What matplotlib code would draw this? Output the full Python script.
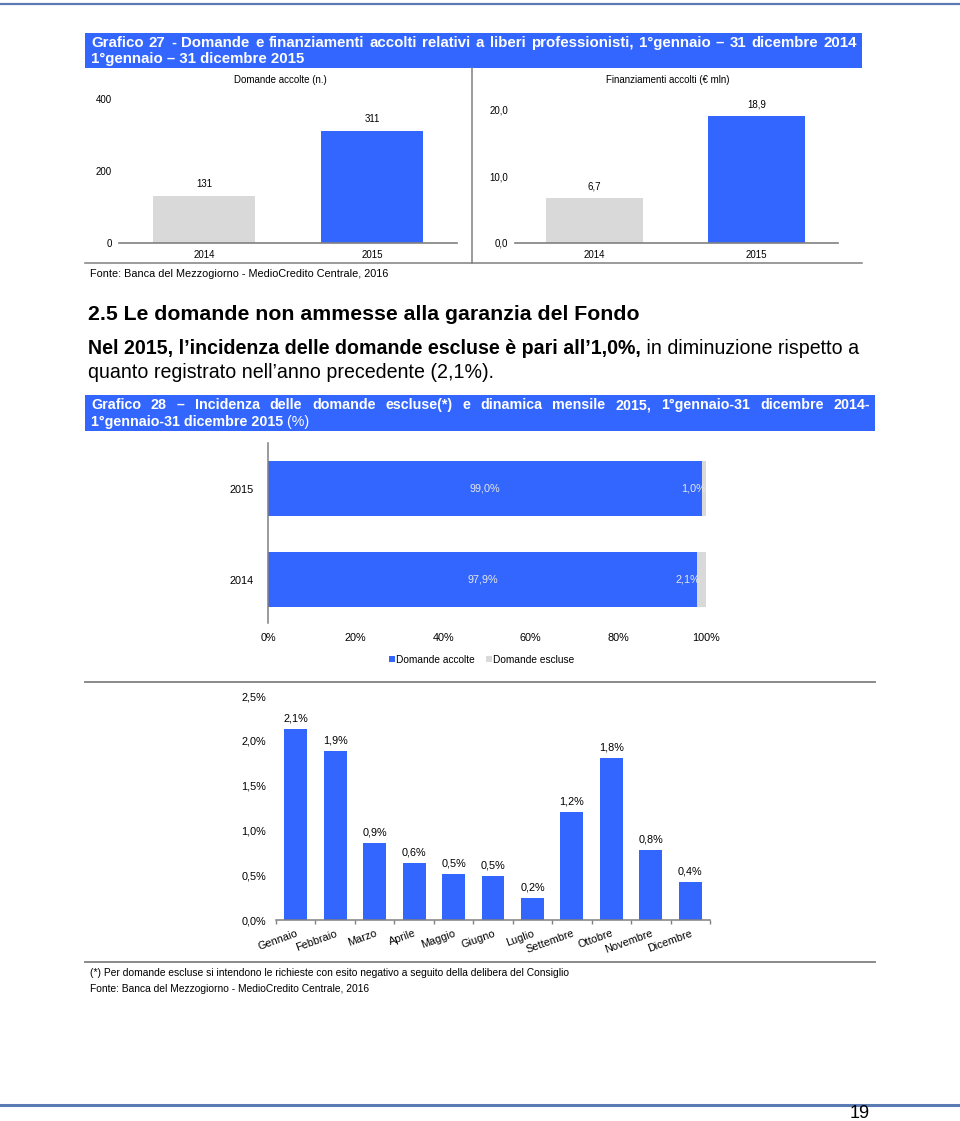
import matplotlib
matplotlib.use('Agg')
import matplotlib.pyplot as plt
from matplotlib.patches import Rectangle

# -------------------------------
# Data
# -------------------------------

years = ['2014', '2015']
domande_accolte_n = [131, 311]
finanziamenti_mln = [6.7, 18.9]

anni_h = ['2014', '2015']
quota_accolte = [97.9, 99.0]
quota_escluse = [2.1, 1.0]

mesi = ['Gennaio', 'Febbraio', 'Marzo', 'Aprile', 'Maggio', 'Giugno',
        'Luglio', 'Settembre', 'Ottobre', 'Novembre', 'Dicembre']
incidenza_mese = [2.13, 1.89, 0.86, 0.64, 0.51, 0.49, 0.24, 1.20, 1.81, 0.78, 0.42]

BLUE = '#3366FF'
GREY = '#D9D9D9'
RULE = '#808080'
NARROW = ['Liberation Sans Narrow', 'Liberation Sans', 'DejaVu Sans']
SANS = ['Liberation Sans', 'DejaVu Sans']

W, H = 960, 1121
fig = plt.figure(figsize=(W / 100, H / 100), dpi=100)
renderer = fig.canvas.get_renderer()


def rect(x0, y0, x1, y1):
    # pixel box (top-left origin) -> figure fraction
    return [x0 / W, 1 - y1 / H, (x1 - x0) / W, (y1 - y0) / H]


def pct(v, d=1):
    return f'{v:.{d}f}'.replace('.', ',') + '%'


# page layer in pixel coordinates
page = fig.add_axes([0, 0, 1, 1])
page.set_xlim(0, W)
page.set_ylim(H, 0)
page.axis('off')


def justify(x0, x1, y, s, **kw):
    # spread the words of one line between x0 and x1
    words = s.split(' ')
    ts = [page.text(x0, y, w, va='center', **kw) for w in words]
    widths = [t.get_window_extent(renderer).width for t in ts]
    gap = (x1 - x0 - sum(widths)) / (len(words) - 1)
    x = x0
    for t, w in zip(ts, widths):
        t.set_x(x)
        x += w + gap


# page rules
page.plot([0, W], [3.5, 3.5], color='#5B7BB5', lw=1.6)
page.plot([0, W], [1105, 1105], color='#5B7BB5', lw=2.2)
page.text(860, 1114, '19', family=NARROW, fontsize=13, ha='center', va='center')

# -------------------------------
# Grafico 27
# -------------------------------
page.add_patch(Rectangle((85, 33), 777, 35, color=BLUE, lw=0))
justify(91, 857, 43, 'Grafico 27 - Domande e finanziamenti accolti relativi a liberi professionisti, '
        '1°gennaio – 31 dicembre 2014', family=NARROW, fontsize=10.8,
        weight='bold', color='white')
page.text(91, 59, '1°gennaio – 31 dicembre 2015', family=NARROW, fontsize=10.8,
          weight='bold', color='white', va='center')

page.plot([472, 472], [68, 263], color=RULE, lw=1.1)
page.plot([85, 862], [263, 263], color=RULE, lw=1.1)
page.text(280, 80, 'Domande accolte (n.)', family=NARROW, fontsize=7, ha='center', va='center')
page.text(668, 80, 'Finanziamenti accolti (€ mln)', family=NARROW, fontsize=7,
          ha='center', va='center')

# left: domande accolte
ax1 = fig.add_axes(rect(119, 99, 457, 243))
ax1.bar(range(len(years)), domande_accolte_n, width=0.607, color=[GREY, BLUE])
ax1.set_xlim(-0.506, 1.506)
ax1.set_ylim(0, 400)
ax1.set_yticks([0, 200, 400])
ax1.set_xticks(range(len(years)))
ax1.set_xticklabels(years)
for i, v in enumerate(domande_accolte_n):
    ax1.annotate(str(v), (i, v), xytext=(0, 5), textcoords='offset points',
                 ha='center', va='bottom', fontsize=7, family=NARROW, annotation_clip=False)

# right: finanziamenti
ax2 = fig.add_axes(rect(515, 109, 838, 243))
ax2.bar(range(len(years)), finanziamenti_mln, width=0.6, color=[GREY, BLUE])
ax2.set_xlim(-0.49, 1.503)
ax2.set_ylim(0, 20)
ax2.set_yticks([0, 10, 20])
ax2.set_yticklabels(['0,0', '10,0', '20,0'])
ax2.set_xticks(range(len(years)))
ax2.set_xticklabels(years)
for i, v in enumerate(finanziamenti_mln):
    ax2.annotate(f'{v:.1f}'.replace('.', ','), (i, v), xytext=(0, 5), textcoords='offset points',
                 ha='center', va='bottom', fontsize=7, family=NARROW, annotation_clip=False)

for ax in (ax1, ax2):
    for s in ('top', 'right', 'left'):
        ax.spines[s].set_visible(False)
    ax.spines['bottom'].set_color(RULE)
    ax.spines['bottom'].set_linewidth(1.2)
    ax.tick_params(length=0, labelsize=7, pad=5)
    ax.tick_params(axis='y', pad=5)
    for lab in ax.get_xticklabels() + ax.get_yticklabels():
        lab.set_family(NARROW)

page.text(90, 274, 'Fonte: Banca del Mezzogiorno - MedioCredito Centrale, 2016',
          family=NARROW, fontsize=7.8, va='center')

# -------------------------------
# Section text
# -------------------------------
page.text(88, 315, '2.5 Le domande non ammesse alla garanzia del Fondo', family=NARROW,
          fontsize=15.3, weight='bold', va='center')
t_bold = page.text(88, 348, 'Nel 2015, l\u2019incidenza delle domande escluse è pari all\u20191,0%,',
                   family=NARROW, fontsize=14.1, weight='bold', va='center')
page.annotate(' in diminuzione rispetto a', xy=(1, 0.5), xycoords=t_bold, va='center',
              family=NARROW, fontsize=14.1)
page.text(88, 373, 'quanto registrato nell\u2019anno precedente (2,1%).', family=NARROW,
          fontsize=14.1, va='center')

# -------------------------------
# Grafico 28
# -------------------------------
page.add_patch(Rectangle((85, 395), 790, 36, color=BLUE, lw=0))
justify(91, 870, 405, 'Grafico 28 – Incidenza delle domande escluse(*) e dinamica mensile 2015, '
        '1°gennaio-31 dicembre 2014-', family=NARROW, fontsize=10.3, weight='bold',
        color='white')
t28 = page.text(91, 422, '1°gennaio-31 dicembre 2015', family=NARROW, fontsize=10.3,
                weight='bold', color='white', va='center')
page.annotate(' (%)', xy=(1, 0.5), xycoords=t28, va='center', family=NARROW,
              fontsize=10.3, color='white')

# stacked horizontal bars
ax3 = fig.add_axes(rect(268, 443, 706, 623))
ypos = range(len(anni_h))
ax3.barh(ypos, quota_accolte, height=0.604, color=BLUE, label='Domande accolte')
ax3.barh(ypos, quota_escluse, left=quota_accolte, height=0.604, color=GREY,
         label='Domande escluse')
ax3.set_xlim(0, 100)
ax3.set_ylim(-0.478, 1.5)
ax3.set_yticks(list(ypos))
ax3.set_yticklabels(anni_h)
ax3.set_xticks([0, 20, 40, 60, 80, 100])
ax3.set_xticklabels([f'{v}%' for v in range(0, 101, 20)])
for s in ('top', 'right', 'bottom'):
    ax3.spines[s].set_visible(False)
ax3.spines['left'].set_color(RULE)
ax3.spines['left'].set_linewidth(1.1)
ax3.tick_params(length=0, labelsize=7.8)
ax3.tick_params(axis='y', pad=10)
ax3.tick_params(axis='x', pad=7)
for lab in ax3.get_xticklabels() + ax3.get_yticklabels():
    lab.set_family(SANS)
for i, (a, e) in enumerate(zip(quota_accolte, quota_escluse)):
    ax3.text(a / 2, i, pct(a), ha='center', va='center', color='#E6E6E6',
             fontsize=7.8, family=SANS)
    ax3.text(a + 0.9, i, pct(e), ha='right', va='center', color='#E6E6E6',
             fontsize=7.8, family=SANS)
ax3.legend(loc='center', bbox_to_anchor=(482 / W, 1 - 660 / H), bbox_transform=fig.transFigure,
           ncol=2, frameon=False, handlelength=0.55, handleheight=0.55, handletextpad=0.15,
           columnspacing=1.1, prop={'family': SANS, 'size': 7.3})

page.plot([85, 875], [682, 682], color=RULE, lw=1.3)

# monthly bars
ax4 = fig.add_axes(rect(276, 696, 710, 920))
xm = range(len(mesi))
ax4.bar(xm, incidenza_mese, width=0.58, color=BLUE)
ax4.set_xlim(-0.5, len(mesi) - 0.5)
ax4.set_ylim(0, 2.5)
ax4.set_yticks([0, 0.5, 1.0, 1.5, 2.0, 2.5])
ax4.set_yticklabels([pct(v) for v in [0, 0.5, 1.0, 1.5, 2.0, 2.5]])
ax4.set_xticks(list(xm))
ax4.set_xticklabels(mesi, rotation=20, ha='right', rotation_mode='anchor')
ax4.set_xticks([i - 0.5 for i in range(len(mesi) + 1)], minor=True)
for s in ('top', 'right', 'left'):
    ax4.spines[s].set_visible(False)
ax4.spines['bottom'].set_color(RULE)
ax4.spines['bottom'].set_linewidth(1.1)
ax4.tick_params(axis='x', which='major', length=0, pad=6, labelsize=7.8)
ax4.tick_params(axis='x', which='minor', length=3, color=RULE, width=1)
ax4.tick_params(axis='y', length=0, pad=7, labelsize=7.8)
for lab in ax4.get_xticklabels() + ax4.get_yticklabels():
    lab.set_family(SANS)
for i, v in enumerate(incidenza_mese):
    ax4.annotate(pct(v), (i, v), xytext=(0, 4), textcoords='offset points',
                 ha='center', va='bottom', fontsize=7.8, family=SANS, annotation_clip=False)

page.plot([85, 875], [962, 962], color=RULE, lw=1.3)
page.text(90, 973, '(*) Per domande escluse si intendono le richieste con esito negativo a seguito '
          'della delibera del Consiglio', family=SANS, fontsize=7.4, va='center')
page.text(90, 989, 'Fonte: Banca del Mezzogiorno - MedioCredito Centrale, 2016', family=SANS,
          fontsize=7.4, va='center')

fig.savefig('out.png', dpi=100)
